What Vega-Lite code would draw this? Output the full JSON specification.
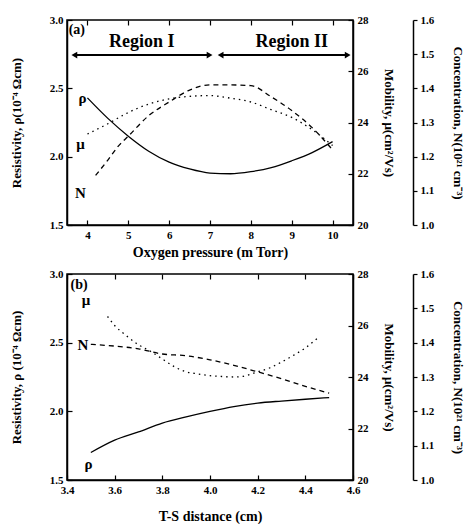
{
  "$schema": "https://vega.github.io/schema/vega-lite/v6.json",
  "padding": {"left": 9, "top": 13, "right": 0, "bottom": 0},
  "spacing": 7,
  "datasets": {
    "a_rho": [
      {"p": 4.0, "rho": 2.43}, {"p": 4.5, "rho": 2.28}, {"p": 5.0, "rho": 2.15}, {"p": 5.5, "rho": 2.04},
      {"p": 6.0, "rho": 1.96}, {"p": 6.5, "rho": 1.91}, {"p": 7.0, "rho": 1.88}, {"p": 7.5, "rho": 1.875},
      {"p": 8.0, "rho": 1.89}, {"p": 8.5, "rho": 1.92}, {"p": 9.0, "rho": 1.97}, {"p": 9.5, "rho": 2.03},
      {"p": 10.0, "rho": 2.11}
    ],
    "a_mu": [
      {"p": 4.0, "mu": 23.55}, {"p": 4.5, "mu": 23.95}, {"p": 5.0, "mu": 24.39}, {"p": 5.5, "mu": 24.72},
      {"p": 6.0, "mu": 24.92}, {"p": 6.5, "mu": 25.02}, {"p": 7.0, "mu": 25.05}, {"p": 7.5, "mu": 24.95},
      {"p": 8.0, "mu": 24.8}, {"p": 8.5, "mu": 24.5}, {"p": 9.0, "mu": 24.2}, {"p": 9.5, "mu": 23.72},
      {"p": 10.0, "mu": 23.1}
    ],
    "a_n": [
      {"p": 4.2, "n": 1.145}, {"p": 4.5, "n": 1.19}, {"p": 4.75, "n": 1.23}, {"p": 5.0, "n": 1.26},
      {"p": 5.5, "n": 1.32}, {"p": 6.0, "n": 1.36}, {"p": 6.5, "n": 1.395}, {"p": 7.0, "n": 1.41},
      {"p": 7.5, "n": 1.41}, {"p": 8.0, "n": 1.408}, {"p": 8.5, "n": 1.375}, {"p": 9.0, "n": 1.335},
      {"p": 9.5, "n": 1.285}, {"p": 10.0, "n": 1.22}
    ],
    "a_region": [
      {"p": 5.33, "rho": 2.84, "t": "Region I"},
      {"p": 9.0, "rho": 2.84, "t": "Region II"}
    ],
    "a_labels": [
      {"p": 3.88, "rho": 2.43, "t": "ρ"},
      {"p": 3.83, "rho": 2.09, "t": "μ"},
      {"p": 3.83, "rho": 1.735, "t": "N"}
    ],
    "a_tag": [{"p": 3.54, "rho": 2.93, "t": "(a)"}],
    "a_arrows": [
      {"p1": 3.68, "p2": 6.99, "rho": 2.743},
      {"p1": 7.26, "p2": 10.37, "rho": 2.743}
    ],
    "a_heads": [
      {"p": 3.68, "rho": 2.743, "end": "left"},
      {"p": 6.99, "rho": 2.743, "end": "right"},
      {"p": 7.26, "rho": 2.743, "end": "left"},
      {"p": 10.37, "rho": 2.743, "end": "right"}
    ],
    "b_rho": [
      {"d": 3.5, "rho": 1.70}, {"d": 3.6, "rho": 1.79}, {"d": 3.7, "rho": 1.85}, {"d": 3.8, "rho": 1.915},
      {"d": 3.9, "rho": 1.96}, {"d": 4.0, "rho": 2.0}, {"d": 4.1, "rho": 2.035}, {"d": 4.2, "rho": 2.06},
      {"d": 4.3, "rho": 2.075}, {"d": 4.4, "rho": 2.088}, {"d": 4.5, "rho": 2.10}
    ],
    "b_mu": [
      {"d": 3.57, "mu": 26.35}, {"d": 3.6, "mu": 26.0}, {"d": 3.65, "mu": 25.6}, {"d": 3.7, "mu": 25.25},
      {"d": 3.75, "mu": 25.0}, {"d": 3.8, "mu": 24.7}, {"d": 3.85, "mu": 24.4}, {"d": 3.9, "mu": 24.2},
      {"d": 3.95, "mu": 24.12}, {"d": 4.0, "mu": 24.05}, {"d": 4.05, "mu": 24.02}, {"d": 4.1, "mu": 24.0},
      {"d": 4.15, "mu": 24.05}, {"d": 4.2, "mu": 24.2}, {"d": 4.25, "mu": 24.35}, {"d": 4.3, "mu": 24.58},
      {"d": 4.35, "mu": 24.84}, {"d": 4.4, "mu": 25.13}, {"d": 4.45, "mu": 25.5}
    ],
    "b_n": [
      {"d": 3.5, "n": 1.395}, {"d": 3.6, "n": 1.39}, {"d": 3.7, "n": 1.382}, {"d": 3.8, "n": 1.367},
      {"d": 3.9, "n": 1.362}, {"d": 4.0, "n": 1.35}, {"d": 4.1, "n": 1.334}, {"d": 4.2, "n": 1.315},
      {"d": 4.3, "n": 1.295}, {"d": 4.4, "n": 1.273}, {"d": 4.5, "n": 1.253}
    ],
    "b_labels": [
      {"d": 3.48, "rho": 2.81, "t": "μ"},
      {"d": 3.467, "rho": 2.48, "t": "N"},
      {"d": 3.49, "rho": 1.62, "t": "ρ"}
    ],
    "b_tag": [{"d": 3.415, "rho": 2.92, "t": "(b)"}]
  },
  "vconcat": [
    {
      "width": 286,
      "height": 205,
      "layer": [
        {
          "layer": [
            {
              "data": {"name": "a_rho"},
              "mark": {"type": "line", "color": "black", "strokeWidth": 1.3, "interpolate": "monotone"},
              "encoding": {
                "x": {"field": "p", "type": "quantitative", "scale": {"domain": [3.5, 10.5], "nice": false},
                  "axis": {"title": "Oxygen pressure (m Torr)", "values": [4, 5, 6, 7, 8, 9, 10], "tickSize": -5, "labelPadding": 9, "titlePadding": 5, "titleFontSize": 14, "labelFlush": false}},
                "y": {"field": "rho", "type": "quantitative", "scale": {"domain": [1.5, 3.0], "nice": false},
                  "axis": {"title": "Resistivity, ρ(10⁻⁴ Ωcm)", "values": [1.5, 2.0, 2.5, 3.0], "format": ".1f", "tickSize": -5, "labelPadding": 9, "titlePadding": 26}}
              }
            },
            {
              "data": {"name": "a_arrows"},
              "mark": {"type": "rule", "color": "black", "strokeWidth": 2},
              "encoding": {
                "x": {"field": "p1", "type": "quantitative"},
                "x2": {"field": "p2"},
                "y": {"field": "rho", "type": "quantitative"}
              }
            },
            {
              "data": {"name": "a_heads"},
              "mark": {"type": "point", "filled": true, "color": "black", "size": 45, "opacity": 1},
              "encoding": {
                "x": {"field": "p", "type": "quantitative"},
                "y": {"field": "rho", "type": "quantitative"},
                "shape": {"field": "end", "type": "nominal", "scale": {"domain": ["left", "right"], "range": ["triangle-left", "triangle-right"]}, "legend": null}
              }
            },
            {
              "data": {"name": "a_region"},
              "mark": {"type": "text", "font": "Liberation Serif, Times New Roman, serif", "fontWeight": "bold", "fontSize": 18, "color": "black"},
              "encoding": {
                "x": {"field": "p", "type": "quantitative"},
                "y": {"field": "rho", "type": "quantitative"},
                "text": {"field": "t"}
              }
            },
            {
              "data": {"name": "a_labels"},
              "mark": {"type": "text", "font": "Liberation Serif, Times New Roman, serif", "fontWeight": "bold", "fontSize": 15, "color": "black"},
              "encoding": {
                "x": {"field": "p", "type": "quantitative"},
                "y": {"field": "rho", "type": "quantitative"},
                "text": {"field": "t"}
              }
            },
            {
              "data": {"name": "a_tag"},
              "mark": {"type": "text", "font": "Liberation Serif, Times New Roman, serif", "fontWeight": "bold", "fontSize": 14, "color": "black", "align": "left"},
              "encoding": {
                "x": {"field": "p", "type": "quantitative"},
                "y": {"field": "rho", "type": "quantitative"},
                "text": {"field": "t"}
              }
            }
          ]
        },
        {
          "data": {"name": "a_mu"},
          "mark": {"type": "line", "color": "black", "strokeWidth": 1.3, "strokeDash": [1.5, 4], "interpolate": "monotone"},
          "encoding": {
            "x": {"field": "p", "type": "quantitative",
              "axis": {"orient": "top", "labels": false, "title": null, "domain": false, "values": [4, 5, 6, 7, 8, 9, 10], "tickSize": -5}},
            "y": {"field": "mu", "type": "quantitative", "scale": {"domain": [20, 28], "nice": false},
              "axis": {"orient": "right", "title": "Mobility, μ(cm²/Vs)", "values": [20, 22, 24, 26, 28], "tickSize": -5, "labelPadding": 9, "titlePadding": 13}}
          }
        },
        {
          "data": {"name": "a_n"},
          "mark": {"type": "line", "color": "black", "strokeWidth": 1.3, "strokeDash": [5, 4], "interpolate": "monotone"},
          "encoding": {
            "x": {"field": "p", "type": "quantitative", "axis": null},
            "y": {"field": "n", "type": "quantitative", "scale": {"domain": [1.0, 1.6], "nice": false},
              "axis": {"orient": "right", "offset": 60, "title": "Concentration, N(10²¹ cm⁻³)", "values": [1.0, 1.1, 1.2, 1.3, 1.4, 1.5, 1.6], "format": ".1f", "tickSize": 4, "labelPadding": 3, "titlePadding": 17}}
          }
        }
      ],
      "resolve": {"scale": {"y": "independent"}, "axis": {"x": "independent"}}
    },
    {
      "width": 286,
      "height": 206,
      "layer": [
        {
          "layer": [
            {
              "data": {"name": "b_rho"},
              "mark": {"type": "line", "color": "black", "strokeWidth": 1.3, "interpolate": "monotone"},
              "encoding": {
                "x": {"field": "d", "type": "quantitative", "scale": {"domain": [3.4, 4.6], "nice": false},
                  "axis": {"title": "T-S distance (cm)", "values": [3.4, 3.6, 3.8, 4.0, 4.2, 4.4, 4.6], "format": ".1f", "tickSize": -5, "labelPadding": 9, "titlePadding": 14, "titleFontSize": 14, "labelFlush": false}},
                "y": {"field": "rho", "type": "quantitative", "scale": {"domain": [1.5, 3.0], "nice": false},
                  "axis": {"title": "Resistivity, ρ (10⁻⁴ Ωcm)", "values": [1.5, 2.0, 2.5, 3.0], "format": ".1f", "tickSize": -5, "labelPadding": 9, "titlePadding": 26}}
              }
            },
            {
              "data": {"name": "b_labels"},
              "mark": {"type": "text", "font": "Liberation Serif, Times New Roman, serif", "fontWeight": "bold", "fontSize": 15, "color": "black"},
              "encoding": {
                "x": {"field": "d", "type": "quantitative"},
                "y": {"field": "rho", "type": "quantitative"},
                "text": {"field": "t"}
              }
            },
            {
              "data": {"name": "b_tag"},
              "mark": {"type": "text", "font": "Liberation Serif, Times New Roman, serif", "fontWeight": "bold", "fontSize": 14, "color": "black", "align": "left"},
              "encoding": {
                "x": {"field": "d", "type": "quantitative"},
                "y": {"field": "rho", "type": "quantitative"},
                "text": {"field": "t"}
              }
            }
          ]
        },
        {
          "data": {"name": "b_mu"},
          "mark": {"type": "line", "color": "black", "strokeWidth": 1.3, "strokeDash": [1.5, 4], "interpolate": "monotone"},
          "encoding": {
            "x": {"field": "d", "type": "quantitative",
              "axis": {"orient": "top", "labels": false, "title": null, "domain": false, "values": [3.4, 3.6, 3.8, 4.0, 4.2, 4.4, 4.6], "tickSize": -5}},
            "y": {"field": "mu", "type": "quantitative", "scale": {"domain": [20, 28], "nice": false},
              "axis": {"orient": "right", "title": "Mobility, μ(cm²/Vs)", "values": [20, 22, 24, 26, 28], "tickSize": -5, "labelPadding": 9, "titlePadding": 13}}
          }
        },
        {
          "data": {"name": "b_n"},
          "mark": {"type": "line", "color": "black", "strokeWidth": 1.3, "strokeDash": [5, 4], "interpolate": "monotone"},
          "encoding": {
            "x": {"field": "d", "type": "quantitative", "axis": null},
            "y": {"field": "n", "type": "quantitative", "scale": {"domain": [1.0, 1.6], "nice": false},
              "axis": {"orient": "right", "offset": 60, "title": "Concentration, N(10²¹ cm⁻³)", "values": [1.0, 1.1, 1.2, 1.3, 1.4, 1.5, 1.6], "format": ".1f", "tickSize": 4, "labelPadding": 3, "titlePadding": 17}}
          }
        }
      ],
      "resolve": {"scale": {"y": "independent"}, "axis": {"x": "independent"}}
    }
  ],
  "config": {
    "view": {"stroke": "black", "strokeWidth": 1.5},
    "axis": {
      "labelFont": "Liberation Serif, Times New Roman, serif", "labelFontWeight": "bold", "labelFontSize": 11, "labelColor": "black",
      "titleFont": "Liberation Serif, Times New Roman, serif", "titleFontWeight": "bold", "titleFontSize": 13, "titleColor": "black",
      "domainColor": "black", "domainWidth": 1.5, "tickColor": "black", "tickWidth": 1.2, "grid": false
    }
  }
}
